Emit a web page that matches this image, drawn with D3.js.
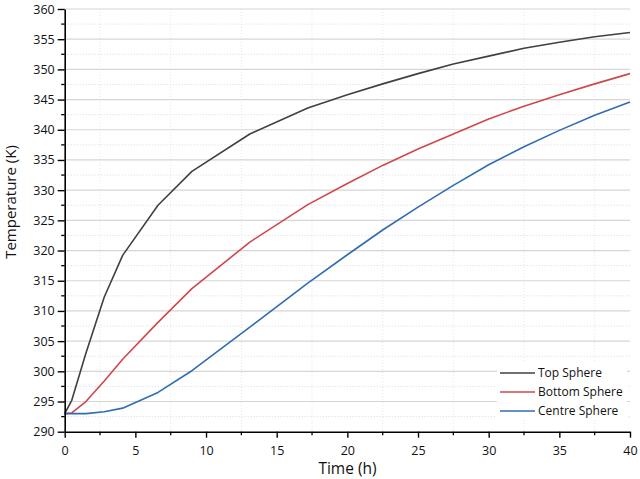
<!DOCTYPE html>
<html><head><meta charset="utf-8">
<script src="https://cdn.jsdelivr.net/npm/d3@7"></script>
<style>
body{margin:0;background:#fff;}
svg{display:block;font-family:"Open Sans",sans-serif;}
</style></head>
<body><svg id="c" width="640" height="479"></svg>
<script>
const time = [0, 0.5, 1.5, 2.8, 4.1, 6.6, 9.0, 13.1, 17.2, 20, 22.5, 25, 27.5, 30, 32.5, 35, 37.5, 40];
const topSphere = [293, 295.2, 303, 312.3, 319.2, 327.5, 333.1, 339.3, 343.6, 345.8, 347.6, 349.3, 350.9, 352.2, 353.5, 354.5, 355.4, 356.1];
const bottomSphere = [293, 293.1, 295, 298.4, 302, 308.1, 313.7, 321.4, 327.6, 331.1, 334.1, 336.8, 339.3, 341.8, 343.9, 345.8, 347.6, 349.3];
const centreSphere = [293, 293, 293, 293.3, 293.9, 296.5, 300.1, 307.3, 314.6, 319.3, 323.4, 327.2, 330.8, 334.2, 337.2, 339.9, 342.4, 344.6];
const seriesNames = ["Top Sphere", "Bottom Sphere", "Centre Sphere"];
const xTicks = [0, 5, 10, 15, 20, 25, 30, 35, 40];
const yTicks = [290, 295, 300, 305, 310, 315, 320, 325, 330, 335, 340, 345, 350, 355, 360];

const colors = ["#404040", "#d0474b", "#2f6db3"];
const series = [topSphere, bottomSphere, centreSphere];

const svg = d3.select("#c");
const L = 64.7, R = 630, T = 9, B = 431.7;
const x = d3.scaleLinear().domain([0, 40]).range([L, R]);
const y = d3.scaleLinear().domain([290, 360]).range([B, T]);

const grid = svg.append("g");
// vertical dotted grid at minor positions
d3.range(2.5, 40, 5).forEach(v => {
  grid.append("line").attr("x1", x(v)).attr("x2", x(v)).attr("y1", T).attr("y2", B)
    .attr("stroke", "#e6e6e6").attr("stroke-width", 1).attr("stroke-dasharray", "1,2");
});
// horizontal minor dotted
d3.range(292.5, 360, 5).forEach(v => {
  grid.append("line").attr("x1", L).attr("x2", R).attr("y1", y(v)).attr("y2", y(v))
    .attr("stroke", "#d9d9d9").attr("stroke-width", 1).attr("stroke-dasharray", "1,2");
});
// horizontal major solid
yTicks.filter(v => v > 290).forEach(v => {
  grid.append("line").attr("x1", L).attr("x2", R).attr("y1", y(v)).attr("y2", y(v))
    .attr("stroke", "#d6d6d6").attr("stroke-width", 1.2);
});

// legend background
svg.append("rect").attr("x", 497).attr("y", 362).attr("width", 130).attr("height", 58).attr("fill", "#fff");

// lines
const line = d3.line().x((d, i) => x(time[i])).y(d => y(d));
series.forEach((s, i) => {
  svg.append("path").datum(s).attr("d", line).attr("fill", "none")
    .attr("stroke", colors[i]).attr("stroke-width", 1.6).attr("stroke-linejoin", "round");
});

// axes
const xAxis = d3.axisBottom(x).tickValues(xTicks).tickSize(6).tickPadding(8).tickSizeOuter(0);
const gx = svg.append("g").attr("transform", `translate(0,${B})`).call(xAxis);
const yAxis = d3.axisLeft(y).tickValues(yTicks).tickSize(7).tickPadding(3).tickSizeOuter(0);
const gy = svg.append("g").attr("transform", `translate(${L},0)`).call(yAxis);
[gx, gy].forEach(g => {
  g.select(".domain").attr("stroke", "#000").attr("stroke-width", 1.6);
  g.selectAll(".tick line").attr("stroke", "#000").attr("stroke-width", 1.4);
  g.selectAll(".tick text").attr("font-family", "Open Sans, sans-serif").attr("font-size", 12.5).attr("fill", "#111");
});
// minor ticks
d3.range(2.5, 40, 5).forEach(v => {
  svg.append("line").attr("x1", x(v)).attr("x2", x(v)).attr("y1", B).attr("y2", B + 3.5)
    .attr("stroke", "#000").attr("stroke-width", 1.3);
});
d3.range(292.5, 360, 5).forEach(v => {
  svg.append("line").attr("x1", L).attr("x2", L - 3.5).attr("y1", y(v)).attr("y2", y(v))
    .attr("stroke", "#000").attr("stroke-width", 1.3);
});

// axis titles
svg.append("text").attr("x", 347.5).attr("y", 474).attr("text-anchor", "middle")
  .attr("font-size", 15.5).attr("fill", "#111").text("Time (h)");
svg.append("text").attr("transform", `translate(15.5,202) rotate(-90)`).attr("text-anchor", "middle")
  .attr("font-size", 15).attr("fill", "#111").text("Temperature (K)");

// legend
const lg = svg.append("g");
seriesNames.forEach((n, i) => {
  const yy = 373 + i * 19;
  lg.append("line").attr("x1", 500).attr("x2", 535).attr("y1", yy).attr("y2", yy)
    .attr("stroke", colors[i]).attr("stroke-width", 1.6);
  lg.append("text").attr("x", 538).attr("y", yy + 4).attr("font-size", 12).attr("fill", "#111").text(n);
});
</script></body></html>
